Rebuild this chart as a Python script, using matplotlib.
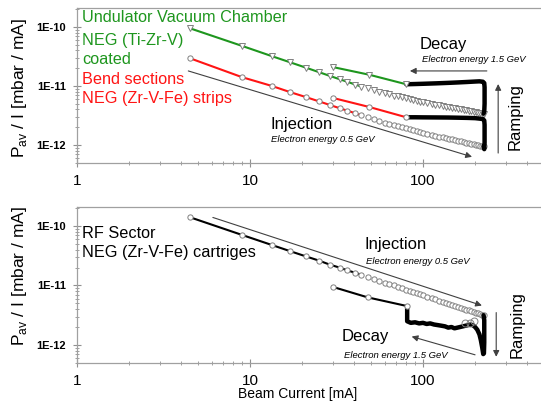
import numpy as np
import matplotlib
matplotlib.use('Agg')
import matplotlib.pyplot as plt

plt.rcParams['font.family'] = ['Liberation Sans', 'DejaVu Sans']
plt.rcParams['mathtext.fontset'] = 'custom'
plt.rcParams['mathtext.rm'] = 'Liberation Sans'

# beam current during injection (mA)
inj_I = [4.5, 9, 13.4, 17, 21, 25, 29, 33, 36.5, 40.5, 44, 48, 52, 56, 60, 64,
         68, 72, 76, 80, 84, 88, 92, 96, 100, 106, 112, 118, 124, 130, 136,
         142, 148, 154, 160, 166, 172, 178, 184, 190, 196, 202, 208, 214, 220, 224]
# undulator vacuum chamber, injection (mbar/mA)
und_inj = [9.5e-11, 4.78e-11, 3.2e-11, 2.53e-11, 2.05e-11, 1.72e-11, 1.48e-11,
           1.30e-11, 1.18e-11, 1.06e-11, 9.8e-12, 9.1e-12, 8.5e-12, 7.96e-12,
           7.6e-12, 7.25e-12, 6.9e-12, 6.7e-12, 6.4e-12, 6.2e-12, 6.0e-12,
           5.8e-12, 5.6e-12, 5.45e-12, 5.3e-12, 5.13e-12, 4.97e-12, 4.83e-12,
           4.71e-12, 4.58e-12, 4.47e-12, 4.37e-12, 4.27e-12, 4.18e-12, 4.09e-12,
           4.01e-12, 3.93e-12, 3.86e-12, 3.79e-12, 3.72e-12, 3.66e-12, 3.6e-12,
           3.54e-12, 3.49e-12, 3.44e-12, 3.4e-12]
# bend sections, injection
bend_inj = [2.95e-11, 1.41e-11, 1.0e-11, 7.9e-12, 6.5e-12, 5.5e-12, 4.76e-12,
            4.2e-12, 3.82e-12, 3.46e-12, 3.2e-12, 2.94e-12, 2.73e-12, 2.54e-12,
            2.4e-12, 2.28e-12, 2.17e-12, 2.08e-12, 1.99e-12, 1.91e-12, 1.84e-12,
            1.77e-12, 1.71e-12, 1.65e-12, 1.6e-12, 1.54e-12, 1.48e-12, 1.43e-12,
            1.39e-12, 1.35e-12, 1.31e-12, 1.27e-12, 1.24e-12, 1.2e-12, 1.18e-12,
            1.15e-12, 1.12e-12, 1.1e-12, 1.07e-12, 1.05e-12, 1.03e-12, 1.01e-12,
            9.9e-13, 9.7e-13, 9.6e-13, 9.5e-13]
# RF sector, injection
rf_inj = [1.41e-10, 7.1e-11, 4.8e-11, 3.8e-11, 3.1e-11, 2.63e-11, 2.24e-11,
          2.0e-11, 1.8e-11, 1.64e-11, 1.52e-11, 1.4e-11, 1.29e-11, 1.2e-11,
          1.12e-11, 1.06e-11, 1.0e-11, 9.46e-12, 8.96e-12, 8.5e-12, 8.1e-12,
          7.8e-12, 7.45e-12, 7.15e-12, 6.87e-12, 6.5e-12, 6.17e-12, 5.85e-12,
          5.58e-12, 5.33e-12, 5.09e-12, 4.9e-12, 4.7e-12, 4.52e-12, 4.36e-12,
          4.2e-12, 4.06e-12, 3.94e-12, 3.8e-12, 3.68e-12, 3.58e-12, 3.48e-12,
          3.38e-12, 3.3e-12, 3.23e-12, 3.16e-12]
n_line = 11  # first points joined by the coloured line

# ramping + decay (dense part)
und_ramp_I = [224, 226, 227, 227, 227, 226, 222, 212, 200, 180, 160, 140, 120, 100, 90, 80]
und_ramp = [3.4e-12, 3.7e-12, 5e-12, 7e-12, 9.5e-12, 1.12e-11, 1.18e-11, 1.2e-11,
            1.19e-11, 1.17e-11, 1.15e-11, 1.13e-11, 1.11e-11, 1.09e-11, 1.08e-11, 1.07e-11]
bend_ramp_I = [224, 226, 227, 227, 227, 226, 222, 212, 200, 180, 160, 140, 120, 100, 90, 80]
bend_ramp = [9.5e-13, 8.5e-13, 1.1e-12, 1.6e-12, 2.2e-12, 2.6e-12, 2.75e-12, 2.8e-12,
             2.85e-12, 2.88e-12, 2.9e-12, 2.92e-12, 2.93e-12, 2.94e-12, 2.95e-12, 2.95e-12]
rf_ramp_I = [224, 226, 226, 226, 225, 223, 220, 216, 212, 206, 200, 194, 188, 182,
             176, 170, 164, 158, 152, 146, 140, 134, 128, 122, 116, 110, 105, 100,
             95, 90, 85, 81, 81, 81]
rf_ramp = [3.16e-12, 2.6e-12, 1.8e-12, 1.1e-12, 7.2e-13, 7e-13, 9e-13, 1.2e-12,
           1.5e-12, 1.8e-12, 2.0e-12, 2.15e-12, 2.2e-12, 2.15e-12, 2.1e-12, 2.05e-12,
           2.0e-12, 1.95e-12, 1.9e-12, 2.0e-12, 1.95e-12, 2.05e-12, 2.1e-12, 2.15e-12,
           2.2e-12, 2.3e-12, 2.25e-12, 2.35e-12, 2.3e-12, 2.4e-12, 2.35e-12, 2.5e-12,
           3.5e-12, 4.5e-12]
rf_out_I = [176, 186, 196]
rf_out = [2.3e-12, 2.35e-12, 2.5e-12]

# decay at 1.5 GeV, coloured segments
und_dec_I = [30, 49, 80]
und_dec = [2.1e-11, 1.55e-11, 1.07e-11]
bend_dec_I = [30, 49, 80]
bend_dec = [6.3e-12, 4.4e-12, 2.95e-12]
rf_dec_I = [30, 48, 81]
rf_dec = [9.5e-12, 6.3e-12, 4.5e-12]

yticks = [1e-12, 1e-11, 1e-10]
ytick_labels = ['1E-12', '1E-11', '1E-10']
xticks = [1, 10, 100]
xtick_labels = ['1', '10', '100']

green = '#1e961e'
red = '#ff1414'
grey = '#808080'
W, H = 541, 413

fig = plt.figure(figsize=(5.41, 4.13), dpi=100)
ax1 = fig.add_axes([77 / W, 1 - 163 / H, 1 - 77 / W, 155 / H])
ax2 = fig.add_axes([77 / W, 1 - 363 / H, 1 - 77 / W, 156 / H])


def style(ax):
    ax.set_xscale('log')
    ax.set_yscale('log')
    ax.set_xlim(1, 481)
    ax.set_ylim(4.95e-13, 2.1e-10)
    for s in ['left', 'bottom', 'top']:
        ax.spines[s].set_color('#a0a0a0')
        ax.spines[s].set_linewidth(0.9)
    ax.spines['right'].set_visible(False)
    ax.set_xticks(xticks)
    ax.set_xticklabels(xtick_labels, fontsize=11)
    ax.set_yticks(yticks)
    ax.set_yticklabels(ytick_labels, fontsize=8, fontweight='bold')
    ax.tick_params(which='major', direction='inout', length=6, color='#909090',
                   width=0.8)
    ax.tick_params(which='minor', direction='inout', length=3.5, color='#909090',
                   width=0.6)
    ax.tick_params(axis='y', which='both', pad=5)
    ax.tick_params(axis='x', which='both', pad=5)
    ax.tick_params(axis='y', which='minor', labelleft=False)
    ax.tick_params(axis='x', which='minor', labelbottom=False)


style(ax1)
style(ax2)

mk = dict(ms=3.8, mfc='white', mew=0.7)
band = dict(color='black', lw=3.2, solid_joinstyle='round',
            solid_capstyle='round', zorder=4)

# --- top panel
ax1.plot(inj_I[:n_line], und_inj[:n_line], color=green, lw=1.5, zorder=2)
ax1.plot(inj_I, und_inj, ls='none', marker='v', mec=grey, **mk, zorder=3)
ax1.plot(inj_I[:n_line], bend_inj[:n_line], color=red, lw=1.5, zorder=2)
ax1.plot(inj_I, bend_inj, ls='none', marker='o', mec=grey, **mk, zorder=3)
ax1.plot(und_ramp_I, und_ramp, **band)
ax1.plot(bend_ramp_I, bend_ramp, **band)
ax1.plot(und_dec_I, und_dec, color=green, lw=1.5, marker='v', mec=grey, **mk, zorder=5)
ax1.plot(bend_dec_I, bend_dec, color=red, lw=1.5, marker='o', mec=grey, **mk, zorder=5)

arr = dict(arrowstyle='-|>', color='#404040', lw=0.8, mutation_scale=9,
           shrinkA=0, shrinkB=0)
ax1.annotate('', xy=(192, 6.3e-13), xytext=(4.4, 1.8e-11), arrowprops=arr)
ax1.annotate('', xy=(84, 1.8e-11), xytext=(234, 1.8e-11), arrowprops=arr)
ax1.annotate('', xy=(272, 1.08e-11), xytext=(272, 7.3e-13), arrowprops=arr)

# --- bottom panel
ax2.plot(inj_I[:n_line], rf_inj[:n_line], color='black', lw=1.5, zorder=2)
ax2.plot(inj_I, rf_inj, ls='none', marker='o', mec=grey, **mk, zorder=3)
ax2.plot(rf_ramp_I, rf_ramp, **band)
ax2.plot(rf_out_I, rf_out, ls='none', marker='o', ms=5, mfc='none', mec=grey,
         mew=0.7, zorder=5)
ax2.plot(rf_dec_I, rf_dec, color='black', lw=1.5, marker='o', mec=grey, **mk, zorder=5)

ax2.annotate('', xy=(219, 4.6e-12), xytext=(6.1, 1.4e-10), arrowprops=arr)
ax2.annotate('', xy=(86, 1.38e-12), xytext=(200, 6.8e-13), arrowprops=arr)
ax2.annotate('', xy=(265, 6.3e-13), xytext=(265, 3.5e-12), arrowprops=arr)


def ftext(x, y, s, **kw):
    fig.text(x / W, 1 - y / H, s, va='center', **kw)


fs = 11.7
ftext(82, 18, 'Undulator Vacuum Chamber', color=green, fontsize=fs)
ftext(82, 40, 'NEG (Ti-Zr-V)', color=green, fontsize=fs)
ftext(82, 59, 'coated', color=green, fontsize=fs)
ftext(82, 80, 'Bend sections', color=red, fontsize=fs)
ftext(82, 99, 'NEG (Zr-V-Fe) strips', color=red, fontsize=fs)
ftext(420, 44, 'Decay', fontsize=12)
ftext(422, 60, 'Electron energy 1.5 GeV', fontsize=6.8, style='italic')
ftext(271, 124, 'Injection', fontsize=12)
ftext(271, 140, 'Electron energy 0.5 GeV', fontsize=6.8, style='italic')
ftext(515, 117, 'Ramping', fontsize=12, rotation=90, ha='center')

ftext(82, 233, 'RF Sector', fontsize=fs)
ftext(82, 253, 'NEG (Zr-V-Fe) cartriges', fontsize=fs)
ftext(365, 245, 'Injection', fontsize=12)
ftext(366, 261, 'Electron energy 0.5 GeV', fontsize=6.8, style='italic')
ftext(342, 337, 'Decay', fontsize=12)
ftext(344, 355, 'Electron energy 1.5 GeV', fontsize=6.8, style='italic')
ftext(517, 325, 'Ramping', fontsize=12, rotation=90, ha='center')

ylab = r'P$_{\mathrm{av}}$ / I [mbar / mA]'
ftext(20, 88, ylab, fontsize=12.5, rotation=90, ha='center')
ftext(20, 276, ylab, fontsize=12.5, rotation=90, ha='center')
ftext(298, 394, 'Beam Current [mA]', fontsize=10, ha='center')

fig.savefig('out.png', dpi=100)
